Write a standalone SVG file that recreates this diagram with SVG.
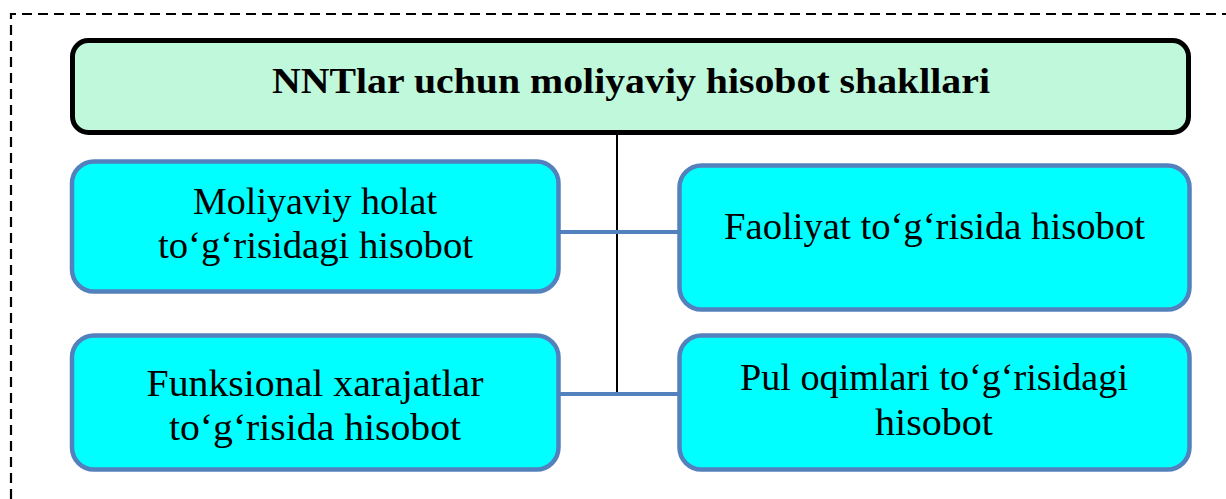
<svg xmlns="http://www.w3.org/2000/svg" width="1226" height="499" viewBox="0 0 1226 499">
<style>
.box{fill:#00FFFF;stroke:#5381BD;stroke-width:4.5}
.t{font-family:"Liberation Serif",serif;font-size:37px;fill:#000;text-anchor:middle}
.title{font-family:"Liberation Serif",serif;font-size:36px;font-weight:bold;fill:#000;text-anchor:middle}
.blue{stroke:#5381BD;stroke-width:4;fill:none}
</style>
<rect width="1226" height="499" fill="#fff"/>
<path d="M11,499 L11,14 L1226,14" fill="none" stroke="#000" stroke-width="2.2" stroke-dasharray="10 6"/>
<g id="connectors">
<line x1="617" y1="135" x2="617" y2="393" stroke="#000" stroke-width="2"/>
<line class="blue" x1="558" y1="232" x2="680" y2="232"/>
<line class="blue" x1="558" y1="394" x2="680" y2="394"/>
</g>
<g id="title">
<rect x="72.5" y="40.5" width="1116" height="92" rx="16" fill="#C0F8DC" stroke="#000" stroke-width="5"/>
<text class="title" x="631" y="93" textLength="718" lengthAdjust="spacingAndGlyphs">NNTlar uchun moliyaviy hisobot shakllari</text>
</g>
<g id="moliyaviy-holat">
<rect class="box" x="72" y="161.5" width="486.5" height="130" rx="22"/>
<text class="t" x="315" y="214" textLength="244" lengthAdjust="spacingAndGlyphs">Moliyaviy holat</text>
<text class="t" x="315.5" y="258" textLength="315" lengthAdjust="spacingAndGlyphs">to‘g‘risidagi hisobot</text>
</g>
<g id="faoliyat">
<rect class="box" x="679.5" y="165.5" width="510" height="144" rx="22"/>
<text class="t" x="934.5" y="239" textLength="421" lengthAdjust="spacingAndGlyphs">Faoliyat to‘g‘risida hisobot</text>
</g>
<g id="funksional">
<rect class="box" x="72" y="335.5" width="486.5" height="134" rx="22"/>
<text class="t" x="315" y="396" textLength="337" lengthAdjust="spacingAndGlyphs">Funksional xarajatlar</text>
<text class="t" x="315" y="440" textLength="292" lengthAdjust="spacingAndGlyphs">to‘g‘risida hisobot</text>
</g>
<g id="pul-oqimlari">
<rect class="box" x="679.5" y="335.5" width="510" height="134" rx="22"/>
<text class="t" x="934" y="390" textLength="388" lengthAdjust="spacingAndGlyphs">Pul oqimlari to‘g‘risidagi</text>
<text class="t" x="934" y="435" textLength="118" lengthAdjust="spacingAndGlyphs">hisobot</text>
</g>
</svg>
